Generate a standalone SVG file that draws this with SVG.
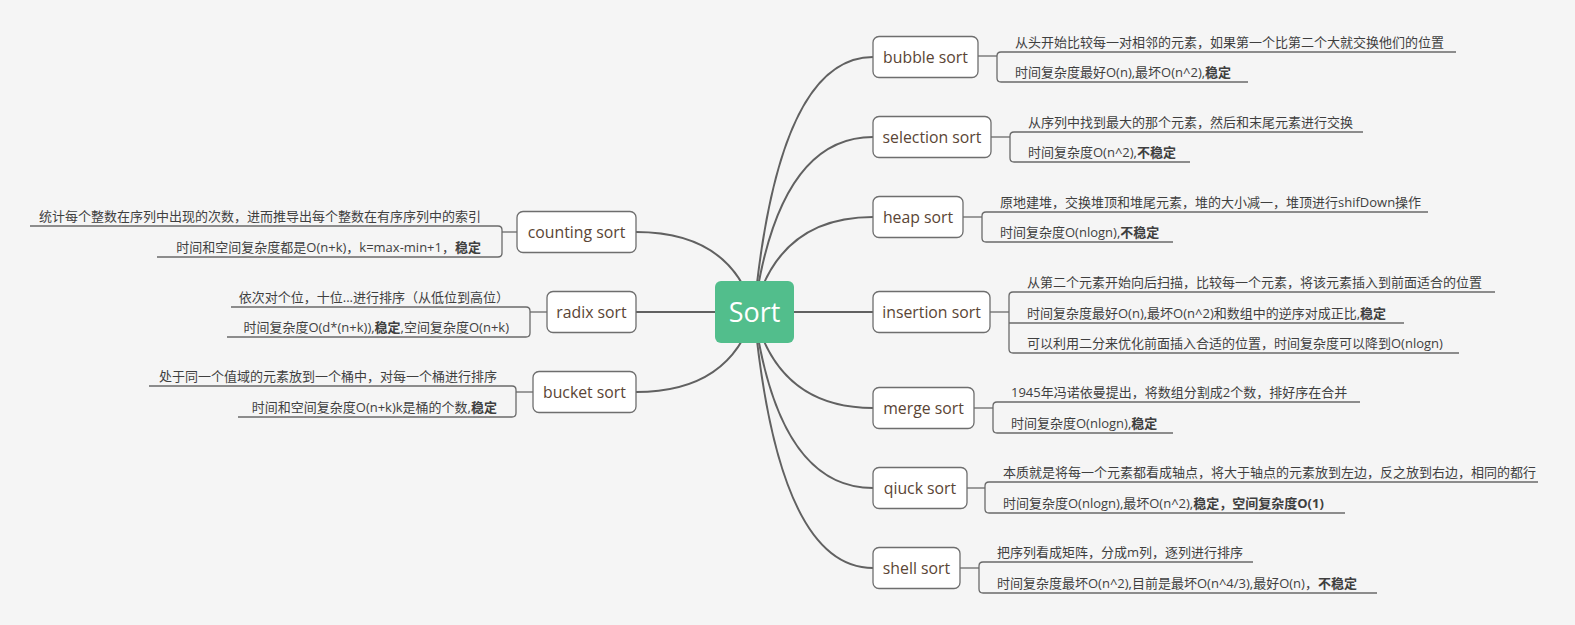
<svg xmlns="http://www.w3.org/2000/svg" width="1575" height="625" viewBox="0 0 1575 625">
<style>
.bg{fill:#f5f5f5}
.main{fill:none;stroke:#616161;stroke-width:2}
.sub{fill:none;stroke:#6a6a6a;stroke-width:1.3}
.box{fill:#ffffff;stroke:#6e6e6e;stroke-width:1.3}
.lbl{font-family:"Open Sans","Noto Sans CJK SC",sans-serif;font-size:15.8px;fill:#5a4535;text-anchor:middle}
.txt{font-family:"Open Sans","Noto Sans CJK SC",sans-serif;font-size:13px;fill:#3f3f3f}
.end{text-anchor:end}
.b{font-weight:bold}
</style>
<rect class="bg" x="0" y="0" width="1575" height="625"/>
<g id="connectors">
  <path class="main" d="M754,312 Q778,57 873,57"/>
  <path class="main" d="M754,312 Q778,137 873,137"/>
  <path class="main" d="M754,312 Q778,217 873,217"/>
  <path class="main" d="M754,312 H873"/>
  <path class="main" d="M754,312 Q778,408 873,408"/>
  <path class="main" d="M754,312 Q778,488 873,488"/>
  <path class="main" d="M754,312 Q778,568 873,568"/>
  <path class="main" d="M754,312 Q731,232 636,232"/>
  <path class="main" d="M754,312 H636"/>
  <path class="main" d="M754,312 Q731,392 636,392"/>
  <path class="sub" d="M978,56 H997"/>
  <path class="sub" d="M1456,52 H1001 Q997,52 997,56 V78 Q997,82 1001,82 H1248"/>
  <path class="sub" d="M991,137 H1010"/>
  <path class="sub" d="M1363,132 H1014 Q1010,132 1010,136 V158 Q1010,162 1014,162 H1190"/>
  <path class="sub" d="M963,217 H982"/>
  <path class="sub" d="M1428,212 H986 Q982,212 982,216 V238 Q982,242 986,242 H1173"/>
  <path class="sub" d="M990,312 H1009"/>
  <path class="sub" d="M1495,292 H1013 Q1009,292 1009,296 V349 Q1009,353 1013,353 H1459"/>
  <path class="sub" d="M1009,323 H1404"/>
  <path class="sub" d="M974,408 H993"/>
  <path class="sub" d="M1360,402 H997 Q993,402 993,406 V429 Q993,433 997,433 H1173"/>
  <path class="sub" d="M967,488 H985"/>
  <path class="sub" d="M1538,482 H989 Q985,482 985,486 V509 Q985,513 989,513 H1345"/>
  <path class="sub" d="M960,568 H979"/>
  <path class="sub" d="M1253,562 H983 Q979,562 979,566 V589 Q979,593 983,593 H1377"/>
  <path class="sub" d="M517,232 H502"/>
  <path class="sub" d="M30,226 H498 Q502,226 502,230 V253 Q502,257 498,257 H157"/>
  <path class="sub" d="M547,312 H530"/>
  <path class="sub" d="M231,307 H526 Q530,307 530,311 V333 Q530,337 526,337 H227"/>
  <path class="sub" d="M533,392 H516"/>
  <path class="sub" d="M149,386 H512 Q516,386 516,390 V413 Q516,417 512,417 H238"/>
</g>
<g id="root">
  <rect x="715" y="281" width="79" height="62" rx="6" fill="#52be8c"/>
  <text x="754.5" y="321.5" font-family="'Open Sans','Noto Sans',sans-serif" font-size="27" fill="#ffffff" text-anchor="middle">Sort</text>
</g>
<g id="bubble">
  <rect class="box" x="873" y="36.5" width="105" height="41" rx="6"/>
  <text class="lbl" x="925.5" y="62.5">bubble sort</text>
  <text class="txt" x="1015" y="46.5">从头开始比较每一对相邻的元素，如果第一个比第二个大就交换他们的位置</text>
  <text class="txt" x="1015" y="76.5">时间复杂度最好O(n),最坏O(n^2),<tspan class="b">稳定</tspan></text>
</g>
<g id="selection">
  <rect class="box" x="873" y="116.5" width="118" height="41" rx="6"/>
  <text class="lbl" x="932" y="142.5">selection sort</text>
  <text class="txt" x="1028" y="126.5">从序列中找到最大的那个元素，然后和末尾元素进行交换</text>
  <text class="txt" x="1028" y="156.5">时间复杂度O(n^2),<tspan class="b">不稳定</tspan></text>
</g>
<g id="heap">
  <rect class="box" x="873" y="196.5" width="90" height="41" rx="6"/>
  <text class="lbl" x="918" y="222.5">heap sort</text>
  <text class="txt" x="1000" y="206.5">原地建堆，交换堆顶和堆尾元素，堆的大小减一，堆顶进行shifDown操作</text>
  <text class="txt" x="1000" y="236.5">时间复杂度O(nlogn),<tspan class="b">不稳定</tspan></text>
</g>
<g id="insertion">
  <rect class="box" x="873" y="291.5" width="117" height="41" rx="6"/>
  <text class="lbl" x="931.5" y="317.5">insertion sort</text>
  <text class="txt" x="1027" y="286.5">从第二个元素开始向后扫描，比较每一个元素，将该元素插入到前面适合的位置</text>
  <text class="txt" x="1027" y="317.5">时间复杂度最好O(n),最坏O(n^2)和数组中的逆序对成正比,<tspan class="b">稳定</tspan></text>
  <text class="txt" x="1027" y="347.5">可以利用二分来优化前面插入合适的位置，时间复杂度可以降到O(nlogn)</text>
</g>
<g id="merge">
  <rect class="box" x="873" y="387.5" width="101" height="41" rx="6"/>
  <text class="lbl" x="923.5" y="413.5">merge sort</text>
  <text class="txt" x="1011" y="396.5">1945年冯诺依曼提出，将数组分割成2个数，排好序在合并</text>
  <text class="txt" x="1011" y="427.5">时间复杂度O(nlogn),<tspan class="b">稳定</tspan></text>
</g>
<g id="qiuck">
  <rect class="box" x="873" y="467.5" width="94" height="41" rx="6"/>
  <text class="lbl" x="920" y="493.5">qiuck sort</text>
  <text class="txt" x="1003" y="476.5">本质就是将每一个元素都看成轴点，将大于轴点的元素放到左边，反之放到右边，相同的都行</text>
  <text class="txt" x="1003" y="507.5">时间复杂度O(nlogn),最坏O(n^2),<tspan class="b">稳定，空间复杂度O(1)</tspan></text>
</g>
<g id="shell">
  <rect class="box" x="873" y="547.5" width="87" height="41" rx="6"/>
  <text class="lbl" x="916.5" y="573.5">shell sort</text>
  <text class="txt" x="997" y="556.5">把序列看成矩阵，分成m列，逐列进行排序</text>
  <text class="txt" x="997" y="587.5">时间复杂度最坏O(n^2),目前是最坏O(n^4/3),最好O(n)，<tspan class="b">不稳定</tspan></text>
</g>
<g id="counting">
  <rect class="box" x="517" y="211.5" width="119" height="41" rx="6"/>
  <text class="lbl" x="576.5" y="237.5">counting sort</text>
  <text class="txt end" x="481" y="221">统计每个整数在序列中出现的次数，进而推导出每个整数在有序序列中的索引</text>
  <text class="txt end" x="481" y="252">时间和空间复杂度都是O(n+k)，k=max-min+1，<tspan class="b">稳定</tspan></text>
</g>
<g id="radix">
  <rect class="box" x="547" y="291.5" width="89" height="41" rx="6"/>
  <text class="lbl" x="591.5" y="317.5">radix sort</text>
  <text class="txt end" x="509" y="302">依次对个位，十位...进行排序（从低位到高位）</text>
  <text class="txt end" x="509" y="332">时间复杂度O(d*(n+k)),<tspan class="b">稳定</tspan>,空间复杂度O(n+k)</text>
</g>
<g id="bucket">
  <rect class="box" x="533" y="371.5" width="103" height="41" rx="6"/>
  <text class="lbl" x="584.5" y="397.5">bucket sort</text>
  <text class="txt end" x="497" y="381">处于同一个值域的元素放到一个桶中，对每一个桶进行排序</text>
  <text class="txt end" x="497" y="412">时间和空间复杂度O(n+k)k是桶的个数,<tspan class="b">稳定</tspan></text>
</g>
</svg>
